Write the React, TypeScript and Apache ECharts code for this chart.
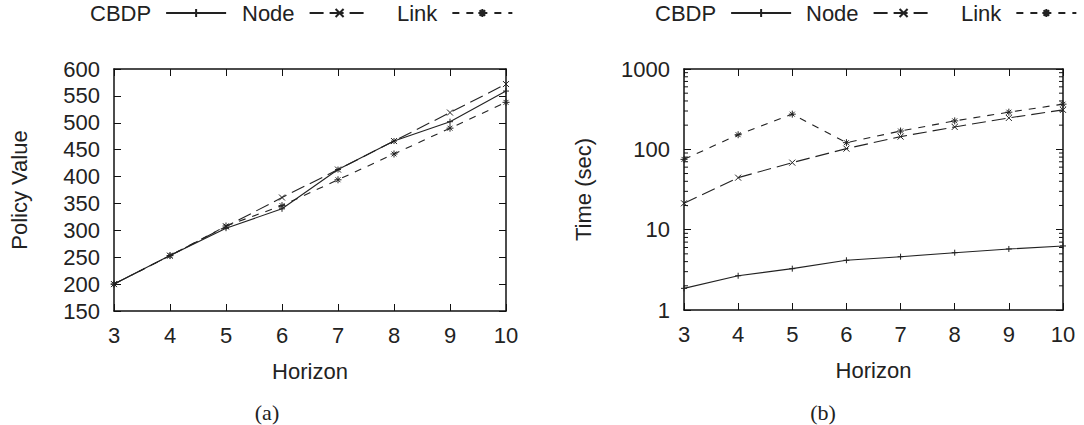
import React, { useEffect, useRef } from "react";
import * as echarts from "echarts";

// Planning horizons on the x axis of both panels
const horizons = [3, 4, 5, 6, 7, 8, 9, 10];

// Panel (a): policy value
const valueCBDP = [200, 253, 304, 340, 413, 466, 502, 559];
const valueNode = [200, 253, 307, 361, 413, 466, 519, 572];
const valueLink = [200, 253, 308, 346, 394, 442, 490, 538];

// Panel (b): running time in seconds (log scale)
const timeCBDP = [1.86, 2.67, 3.27, 4.16, 4.61, 5.17, 5.75, 6.27];
const timeNode = [21.3, 44.4, 68.3, 102, 144, 190, 246, 310];
const timeLink = [75, 152, 274, 121, 169, 226, 290, 365];

// Minor ticks of the log axis (2..9 in each decade)
const logMinorTicks = [2, 3, 4, 5, 6, 7, 8, 9, 20, 30, 40, 50, 60, 70, 80, 90, 200, 300, 400, 500, 600, 700, 800, 900];

const seriesNames = ["CBDP", "Node", "Link"];

const INK = "#222";
const FONT = "'Liberation Sans', Arial, Helvetica, sans-serif";

// gnuplot-like point types: plus, cross, star
const SYM_PLUS = "path://M0,5L10,5M5,0L5,10";
const SYM_CROSS = "path://M0,0L10,10M10,0L0,10";
const SYM_STAR = "path://M0,5L10,5M5,0L5,10M1.5,1.5L8.5,8.5M8.5,1.5L1.5,8.5";

const pair = (ys: number[]) => horizons.map((x, i) => [x, ys[i]]);

function lineSeries(name: string, data: number[], symbol: string, dash: any, xi: number, yi: number, size: number) {
  return {
    name,
    type: "line",
    xAxisIndex: xi,
    yAxisIndex: yi,
    data: pair(data),
    symbol,
    symbolSize: size,
    showSymbol: true,
    clip: false,
    lineStyle: { color: INK, width: 1.1, type: dash },
    itemStyle: { color: INK, borderColor: INK, borderWidth: 1 },
    emphasis: { disabled: true },
  };
}

// One key entry per legend box, text first and line sample to its right
function keyEntry(name: string, left: number) {
  return {
    left,
    top: 2,
    padding: 0,
    orient: "horizontal",
    align: "right",
    itemWidth: 60,
    itemHeight: 10,
    selectedMode: false,
    data: [name],
    textStyle: { fontSize: 22, fontFamily: FONT, color: INK, padding: [0, 10, 0, 0] },
  };
}

const keyLeftA = [90, 242, 397];
const keyLeftB = [655, 806, 961];

const axisLabelStyle = { fontSize: 22, fontFamily: FONT, color: INK };
const axisLineStyle = { show: true, lineStyle: { color: "#111", width: 1.5 } };

function bottomX(gridIndex: number) {
  return {
    gridIndex,
    type: "value",
    min: 3,
    max: 10,
    interval: 1,
    position: "bottom",
    name: "Horizon",
    nameLocation: "middle",
    nameGap: 49,
    nameTextStyle: axisLabelStyle,
    axisLine: axisLineStyle,
    axisTick: { inside: true, length: 7, lineStyle: { color: "#111" } },
    axisLabel: { ...axisLabelStyle, margin: 13 },
    splitLine: { show: false },
  };
}

function topX(gridIndex: number) {
  return {
    gridIndex,
    type: "value",
    min: 3,
    max: 10,
    interval: 1,
    position: "top",
    axisLine: axisLineStyle,
    axisTick: { inside: true, length: 7, lineStyle: { color: "#111" } },
    axisLabel: { show: false },
    splitLine: { show: false },
  };
}

export default function App() {
  const ref = useRef<HTMLDivElement>(null);

  useEffect(() => {
    if (!ref.current) return;
    const chart = echarts.init(ref.current, null, { renderer: "svg" });

    const option: any = {
      animation: false,
      backgroundColor: "#fff",
      legend: [
        ...seriesNames.map((n, i) => keyEntry(n, keyLeftA[i])),
        ...seriesNames.map((n, i) => keyEntry(n, keyLeftB[i])),
      ],
      grid: [
        { left: 114, top: 69, width: 392, height: 242 },
        { left: 684, top: 69, width: 379, height: 241 },
      ],
      xAxis: [bottomX(0), topX(0), bottomX(1), topX(1)],
      yAxis: [
        {
          gridIndex: 0,
          type: "value",
          min: 150,
          max: 600,
          interval: 50,
          position: "left",
          name: "Policy Value",
          nameLocation: "middle",
          nameGap: 84,
          nameTextStyle: axisLabelStyle,
          axisLine: axisLineStyle,
          axisTick: { inside: true, length: 7, lineStyle: { color: "#111" } },
          axisLabel: { ...axisLabelStyle, margin: 14 },
          splitLine: { show: false },
        },
        {
          gridIndex: 0,
          type: "value",
          min: 150,
          max: 600,
          interval: 50,
          position: "right",
          axisLine: axisLineStyle,
          axisTick: { inside: true, length: 7, lineStyle: { color: "#111" } },
          axisLabel: { show: false },
          splitLine: { show: false },
        },
        {
          gridIndex: 1,
          type: "log",
          logBase: 10,
          min: 1,
          max: 1000,
          position: "left",
          name: "Time (sec)",
          nameLocation: "middle",
          nameGap: 90,
          nameTextStyle: axisLabelStyle,
          axisLine: axisLineStyle,
          axisTick: { inside: true, length: 7, lineStyle: { color: "#111" } },
          axisLabel: { ...axisLabelStyle, margin: 14, formatter: (v: number) => String(Math.round(v)) },
          splitLine: { show: false },
        },
        {
          gridIndex: 1,
          type: "log",
          logBase: 10,
          min: 1,
          max: 1000,
          position: "right",
          axisLine: axisLineStyle,
          axisTick: { inside: true, length: 7, lineStyle: { color: "#111" } },
          axisLabel: { show: false },
          splitLine: { show: false },
        },
      ],
      series: [
        lineSeries("CBDP", valueCBDP, SYM_PLUS, "solid", 0, 0, 6),
        lineSeries("Node", valueNode, SYM_CROSS, [14, 6], 0, 0, 6),
        lineSeries("Link", valueLink, SYM_STAR, [7, 7], 0, 0, 7),
        lineSeries("CBDP", timeCBDP, SYM_PLUS, "solid", 2, 2, 6),
        lineSeries("Node", timeNode, SYM_CROSS, [14, 6], 2, 2, 6),
        lineSeries("Link", timeLink, SYM_STAR, [7, 7], 2, 2, 7),
        {
          type: "custom",
          xAxisIndex: 2,
          yAxisIndex: 2,
          silent: true,
          clip: false,
          data: logMinorTicks.map((v) => [3, v]),
          renderItem: (params: any, api: any) => {
            const cs = params.coordSys;
            const y = api.coord([3, api.value(1)])[1];
            const st = { stroke: "#111", lineWidth: 1 };
            return {
              type: "group",
              children: [
                { type: "line", shape: { x1: cs.x, y1: y, x2: cs.x + 4, y2: y }, style: st },
                { type: "line", shape: { x1: cs.x + cs.width - 4, y1: y, x2: cs.x + cs.width, y2: y }, style: st },
              ],
            };
          },
        },
      ],
      graphic: [
        { type: "text", x: 267, y: 412, style: { text: "(a)", font: "22px 'Liberation Serif'", fill: INK, align: "center", verticalAlign: "middle" } },
        { type: "text", x: 823, y: 412, style: { text: "(b)", font: "22px 'Liberation Serif'", fill: INK, align: "center", verticalAlign: "middle" } },
      ],
    };

    chart.setOption(option);
    return () => chart.dispose();
  }, []);

  return <div ref={ref} style={{ position: "fixed", left: 0, top: 0, width: 1084, height: 425 }} />;
}
